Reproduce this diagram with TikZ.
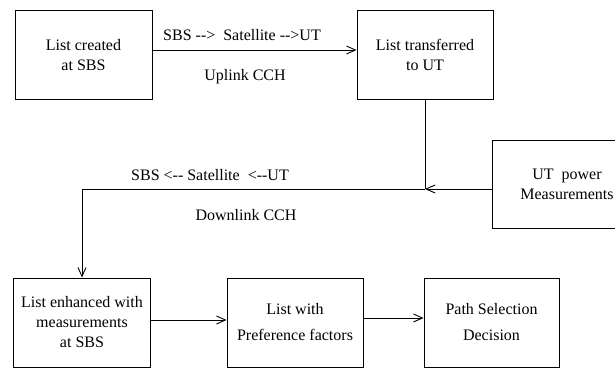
\documentclass[tikz,border=0pt]{standalone}
\usepackage{fontspec}
\setmainfont{Liberation Serif}
\usetikzlibrary{calc,arrows.meta}

\begin{document}
\begin{tikzpicture}[x=1pt,y=-1pt,font=\fontsize{16}{20}\selectfont,line width=0.9pt,
  blk/.style={draw,minimum width=137pt,minimum height=89pt,inner sep=0pt,align=center},
  arr/.style={-{Straight Barb[length=9pt,width=8pt]}}]
\useasboundingbox (0,0) rectangle (615,369);
\clip (0,0) rectangle (615,369);
\node[blk] (create) at (83.5,55) {List created\\at SBS};
\node[blk,minimum width=136pt] (transfer) at (425,55) {List transferred\\to UT};
\node[blk,minimum width=150pt,minimum height=88pt] (meas) at (567,184) {UT\ \ power\\Measurements};
\node[blk] (enh) at (82,322.5) {List enhanced with\\measurements\\at SBS};
\node[blk,minimum width=136pt] (pref) at (295,322.5) {List with\\[6pt]Preference factors};
\node[blk,minimum width=135pt] (path) at (491.5,322.5) {Path Selection\\[6pt]Decision};
% uplink
\draw[arr] ([yshift=5pt]create.east) -- ([yshift=5pt]transfer.west);
\node (up) at (242,35) {SBS -{}->\ \ Satellite -{}->UT};
\node (upcch) at (245,77) {Uplink CCH};
% downlink
\coordinate (J) at (425,189);
\draw (transfer.south) -- (J);
\draw[arr] ([yshift=-5pt]meas.west) -- (J);
\draw[arr] (J) -| (enh.north);
\node (down) at (210,175) {SBS <-{}- Satellite\ \ <-{}-UT};
\node (downcch) at (246,215) {Downlink CCH};
% bottom row
\draw[arr] ([yshift=2.5pt]enh.east) -- ([yshift=2.5pt]pref.west);
\draw[arr] ([yshift=4.5pt]pref.east) -- ([yshift=4.5pt]path.west);
\end{tikzpicture}
\end{document}
